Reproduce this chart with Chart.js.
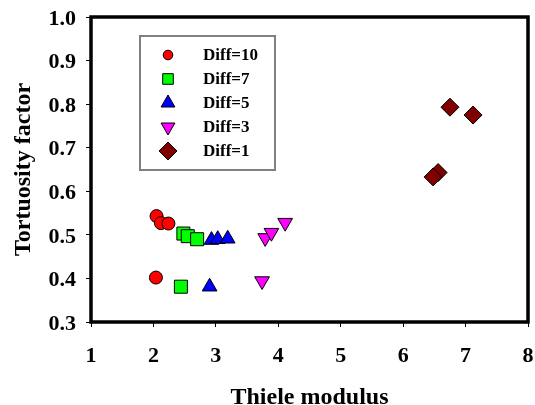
<!DOCTYPE html>
<html>
<head>
<meta charset="utf-8">
<script src="https://cdn.jsdelivr.net/npm/chart.js@4/dist/chart.umd.min.js"></script>
<style>
  html, body { margin: 0; padding: 0; background: #fff; }
  #wrap { width: 535px; height: 405px; }
</style>
</head>
<body>
<div id="wrap"><canvas id="graph1"></canvas></div>
<script>
// values
const seriesNames = ['Diff=10', 'Diff=7', 'Diff=5', 'Diff=3', 'Diff=1'];
const diff10X = [2.05, 2.12, 2.24, 2.04];
const diff10Y = [0.543, 0.527, 0.526, 0.402];
const diff7X = [2.48, 2.55, 2.70, 2.44];
const diff7Y = [0.503, 0.497, 0.490, 0.381];
const diff5X = [2.93, 3.03, 3.19, 2.90];
const diff5Y = [0.488, 0.490, 0.491, 0.381];
const diff3X = [3.79, 3.89, 4.11, 3.74];
const diff3Y = [0.493, 0.505, 0.528, 0.394];
const diff1X = [6.75, 7.12, 6.56, 6.48];
const diff1Y = [0.793, 0.775, 0.643, 0.633];
const xTicks = [1, 2, 3, 4, 5, 6, 7, 8];
const yTicks = [0.3, 0.4, 0.5, 0.6, 0.7, 0.8, 0.9, 1.0];

const fontFam = '"Liberation Serif", "Times New Roman", serif';

function toPoints(xs, ys) {
  return xs.map((x, i) => ({ x: x, y: ys[i] }));
}

const styles = [
  { color: '#FF0000', style: 'circle', r: 6.5, rot: 0, lr: 4.8 },
  { color: '#00FF00', style: 'rect', r: 9.2, rot: 0, lr: 7.5 },
  { color: '#0000FF', style: 'triangle', r: 8.5, rot: 0, lr: 8 },
  { color: '#FF00FF', style: 'triangle', r: 8.5, rot: 180, lr: 8 },
  { color: '#800000', style: 'rectRot', r: 9, rot: 0, lr: 9 }
];
const xs = [diff10X, diff7X, diff5X, diff3X, diff1X];
const ys = [diff10Y, diff7Y, diff5Y, diff3Y, diff1Y];

const datasets = seriesNames.map((name, i) => ({
  label: name,
  data: toPoints(xs[i], ys[i]),
  backgroundColor: styles[i].color,
  borderColor: '#000',
  borderWidth: 1,
  pointStyle: styles[i].style,
  pointRadius: styles[i].r,
  pointHoverRadius: styles[i].r,
  rotation: styles[i].rot
}));

// border round the plot and the boxed legend
const framePlugin = {
  id: 'frame',
  afterDraw(chart) {
    const ctx = chart.ctx;
    const a = chart.chartArea;
    ctx.save();
    ctx.strokeStyle = '#000';
    ctx.lineWidth = 3.5;
    ctx.strokeRect(a.left, a.top, a.right - a.left, a.bottom - a.top);

    ctx.lineWidth = 2;
    ctx.strokeStyle = '#808080';
    ctx.strokeRect(140, 36, 135, 134);

    ctx.font = 'bold 17px ' + fontFam;
    ctx.fillStyle = '#000';
    ctx.textBaseline = 'middle';
    const rows = [55, 79, 103, 127, 151];
    seriesNames.forEach((name, i) => {
      ctx.fillStyle = styles[i].color;
      ctx.strokeStyle = '#000';
      ctx.lineWidth = 1;
      Chart.helpers.drawPoint(ctx, {
        pointStyle: styles[i].style,
        radius: styles[i].lr,
        rotation: styles[i].rot,
        borderWidth: 1
      }, 168, rows[i]);
      ctx.fillStyle = '#000';
      ctx.fillText(name, 203, rows[i] + 1);
    });
    ctx.restore();
  }
};

new Chart(document.getElementById('graph1'), {
  type: 'scatter',
  data: { datasets: datasets },
  options: {
    responsive: true,
    maintainAspectRatio: false,
    animation: false,
    layout: { autoPadding: false, padding: { top: 17, right: 7, left: 0, bottom: 0 } },
    plugins: {
      legend: { display: false },
      tooltip: { enabled: false }
    },
    scales: {
      x: {
        type: 'linear',
        min: 1,
        max: 8,
        afterBuildTicks: (scale) => { scale.ticks = xTicks.map(v => ({ value: v })); },
        afterFit: (scale) => {
          scale.height = 83;
          scale.paddingLeft = 0;
          scale.paddingRight = 0;
        },
        grid: { drawOnChartArea: false, drawTicks: true, tickLength: 5, color: '#000' },
        border: { display: false },
        ticks: {
          color: '#000',
          padding: 16,
          maxRotation: 0,
          font: { family: fontFam, size: 22, weight: 'bold' }
        },
        title: {
          display: true,
          text: 'Thiele modulus',
          color: '#000',
          padding: { top: 0, bottom: -7 },
          font: { family: fontFam, size: 24, weight: 'bold' }
        }
      },
      y: {
        type: 'linear',
        min: 0.3,
        max: 1.0,
        afterBuildTicks: (scale) => { scale.ticks = yTicks.map(v => ({ value: v })); },
        afterFit: (scale) => {
          scale.width = 91;
          scale.paddingTop = 0;
          scale.paddingBottom = 0;
        },
        grid: { drawOnChartArea: false, drawTicks: true, tickLength: 5, color: '#000' },
        border: { display: false },
        ticks: {
          color: '#000',
          padding: 10,
          labelOffset: 2,
          callback: (v) => v.toFixed(1),
          font: { family: fontFam, size: 22, weight: 'bold' }
        },
        title: {
          display: true,
          text: 'Tortuosity factor',
          color: '#000',
          padding: { top: 9, bottom: 0 },
          font: { family: fontFam, size: 24, weight: 'bold' }
        }
      }
    }
  },
  plugins: [framePlugin]
});
</script>
</body>
</html>
